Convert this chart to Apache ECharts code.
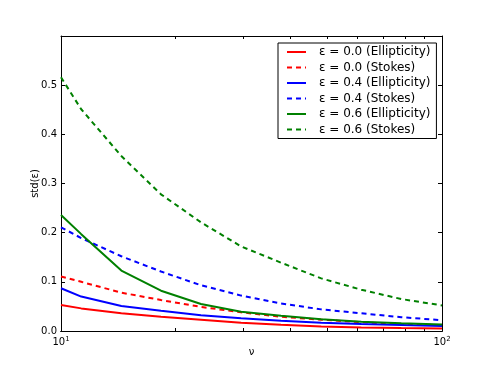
<!DOCTYPE html>
<html>
<head>
<meta charset="utf-8">
<script src="https://cdn.jsdelivr.net/npm/echarts@6/dist/echarts.min.js"></script>
<style>
  html, body { margin: 0; padding: 0; background: #fff; }
  #chart { width: 491px; height: 368px; }
</style>
</head>
<body>
<div id="chart"></div>
<script>
// sample points along nu (log axis)
const nu = [10, 11.3, 14.4, 18.3, 23.3, 29.7, 37.8, 48.2, 61.4, 78.2, 100]

const ell00 = [0.053, 0.046, 0.036, 0.029, 0.023, 0.017, 0.0125, 0.009, 0.0072, 0.006, 0.005]
const sto00 = [0.111, 0.100, 0.078, 0.063, 0.049, 0.038, 0.029, 0.023, 0.018, 0.014, 0.012]
const ell04 = [0.087, 0.070, 0.051, 0.041, 0.032, 0.026, 0.021, 0.017, 0.014, 0.012, 0.010]
const sto04 = [0.211, 0.189, 0.152, 0.121, 0.093, 0.072, 0.056, 0.044, 0.036, 0.028, 0.022]
const ell06 = [0.236, 0.197, 0.123, 0.082, 0.055, 0.039, 0.031, 0.024, 0.019, 0.0157, 0.013]
const sto06 = [0.516, 0.451, 0.356, 0.278, 0.221, 0.172, 0.139, 0.107, 0.084, 0.065, 0.052]

const seriesNames = [
  'ε = 0.0 (Ellipticity)', 'ε = 0.0 (Stokes)',
  'ε = 0.4 (Ellipticity)', 'ε = 0.4 (Stokes)',
  'ε = 0.6 (Ellipticity)', 'ε = 0.6 (Stokes)'
]
const seriesValues = [ell00, sto00, ell04, sto04, ell06, sto06]
const seriesColors = ['#ff0000', '#ff0000', '#0000ff', '#0000ff', '#008000', '#008000']

const xMajor = [10, 100]
const xExp = ['1', '2']
const xMinor = [20, 30, 40, 50, 60, 70, 80, 90]

const font = 'DejaVu Sans'
const dash = [5, 4]
const chart = echarts.init(document.getElementById('chart'))

const series = seriesNames.map((name, i) => ({
  name,
  type: 'line',
  xAxisIndex: 0,
  yAxisIndex: 0,
  symbol: 'none',
  color: seriesColors[i],
  lineStyle: { width: 2, color: seriesColors[i], type: i % 2 ? dash : 'solid' },
  data: nu.map((v, j) => [v, seriesValues[i][j]])
}))

// main log axis (data + labels)
const logAxis = (pos, withLabels) => ({
  type: 'log',
  logBase: 10,
  position: pos,
  min: 10,
  max: 100,
  axisLine: { show: true, lineStyle: { color: '#000', width: 1 } },
  axisTick: { show: false },
  axisLabel: withLabels ? {
    show: true,
    margin: 5,
    formatter: (v) => '{b|10}{s|' + xExp[xMajor.indexOf(Math.round(v))] + '}',
    rich: {
      b: { fontFamily: font, fontSize: 10, lineHeight: 12, color: '#000' },
      s: { fontFamily: font, fontSize: 7, lineHeight: 7, verticalAlign: 'top', color: '#000' }
    }
  } : { show: false },
  splitLine: { show: false },
  name: withLabels ? 'ν' : '',
  nameLocation: 'middle',
  nameGap: 16,
  nameMoveOverlap: false,
  nameTextStyle: { fontFamily: font, fontSize: 10, color: '#000' }
})

// minor tick marks of the log axis, on a log10 scale
const minorAxis = (pos) => ({
  type: 'value',
  position: pos,
  min: 1,
  max: 2,
  axisLine: { show: true, lineStyle: { color: '#000', width: 1 } },
  axisTick: {
    show: true,
    inside: true,
    length: 3,
    lineStyle: { color: '#000', width: 1 },
    customValues: xMinor.map(Math.log10)
  },
  axisLabel: { show: false },
  splitLine: { show: false }
})

const valAxis = (pos, withLabels) => ({
  type: 'value',
  position: pos,
  min: 0,
  max: 0.6,
  interval: 0.1,
  axisLine: { show: true, lineStyle: { color: '#000', width: 1 } },
  axisTick: { show: true, inside: true, length: 4, lineStyle: { color: '#000', width: 1 } },
  axisLabel: withLabels ? {
    show: true,
    margin: 4,
    showMaxLabel: false,
    fontFamily: font,
    fontSize: 10,
    color: '#000',
    formatter: (v) => v.toFixed(1)
  } : { show: false },
  splitLine: { show: false },
  name: withLabels ? 'std(ε)' : '',
  nameLocation: 'middle',
  nameGap: 21,
  nameMoveOverlap: false,
  nameTextStyle: { fontFamily: font, fontSize: 10, color: '#000' }
})

chart.setOption({
  animation: false,
  backgroundColor: '#fff',
  grid: { left: 61, right: 49, top: 36, bottom: 37, containLabel: false },
  xAxis: [
    logAxis('bottom', true),
    logAxis('top', false),
    minorAxis('bottom'),
    minorAxis('top')
  ],
  yAxis: [
    valAxis('left', true),
    valAxis('right', false)
  ],
  legend: {
    orient: 'vertical',
    left: 278,
    top: 43,
    padding: [3, 6, 3, 8],
    itemGap: 3.5,
    itemWidth: 19,
    itemHeight: 14,
    backgroundColor: '#fff',
    borderColor: '#000',
    borderWidth: 1,
    borderRadius: 0,
    itemStyle: { opacity: 0 },
    textStyle: { fontFamily: font, fontSize: 12, color: '#000', padding: [0, 0, 0, 8] },
    data: seriesNames.map((name, i) => ({
      name,
      itemStyle: { opacity: 0 },
      lineStyle: { width: 2, color: seriesColors[i], type: i % 2 ? dash : 'solid' }
    }))
  },
  series
})
</script>
</body>
</html>
